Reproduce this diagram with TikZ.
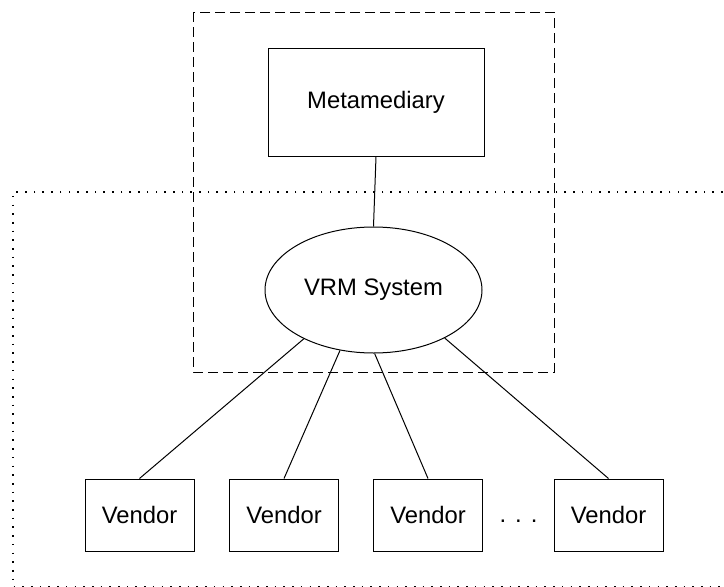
\documentclass[tikz,border=0pt]{standalone}
\usepackage{fontspec}
\setmainfont{Liberation Sans}
\usetikzlibrary{shapes.geometric}

\tikzset{
  every node/.style={font=\fontsize{23.8}{28}\selectfont},
  box/.style={draw, line width=1pt, inner sep=0pt, rectangle},
  vendorbox/.style={box, minimum width=109pt, minimum height=72pt},
  link/.style={line width=1pt},
  groupframe/.style={line width=1pt, dash pattern=on 10pt off 5pt},
  domainframe/.style={line width=1.1pt, dash pattern=on 1.6pt off 7.1pt},
}

\begin{document}
\begin{tikzpicture}[x=1pt, y=-1pt]
  \clip (0,0) rectangle (724,587);

  % outer dotted domain, open towards the right, its lower edge at the border
  \draw[domainframe] (740,192) -- (13,192) -- (13,586.6) -- (740,586.6);

  % dashed group round the metamediary and the VRM system
  \draw[groupframe] (193,12) rectangle (554,372);

  \node[box, minimum width=216pt, minimum height=108pt] (meta) at (376,102) {Metamediary};
  \node[draw, line width=1pt, ellipse, inner sep=0pt,
        minimum width=217pt, minimum height=126pt] (vrm) at (373.5,290) {VRM System};

  \node[vendorbox] (v1) at (139.5,515) {Vendor};
  \node[vendorbox] (v2) at (284,515) {Vendor};
  \node[vendorbox] (v3) at (428,515) {Vendor};
  \node[vendorbox] (v4) at (608.5,515) {Vendor};
  \node[anchor=base, inner sep=0pt] (more) at (518.5,522) {.\hspace{9pt}.\hspace{9pt}.};

  \draw[link] (meta.south) -- (vrm.north);
  \draw[link] (vrm.215) -- (v1.north);
  \draw[link] (vrm.241) -- (v2.north);
  \draw[link] (vrm.271) -- (v3.north);
  \draw[link] (vrm.326) -- (v4.north);
\end{tikzpicture}
\end{document}
